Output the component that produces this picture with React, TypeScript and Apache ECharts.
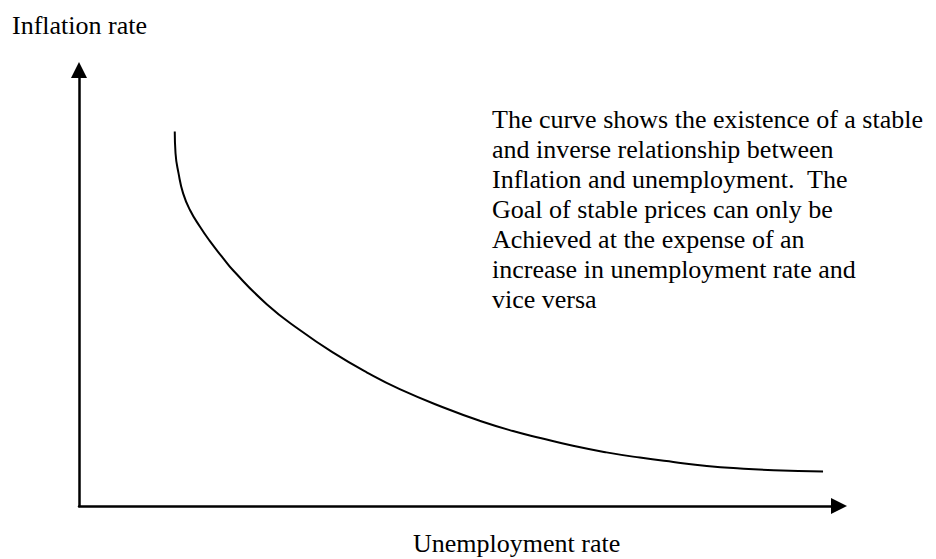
import React, { useEffect, useRef } from "react";
import * as echarts from "echarts";

// Phillips curve (abstract units, 0–10 on both axes)
const unemployment = [1.26, 1.27, 1.31, 1.37, 1.46, 1.59, 1.72, 1.88, 2.03, 2.47, 2.91, 3.35, 3.79, 4.22, 4.84, 5.28, 5.71, 6.07, 6.5, 6.94, 7.38, 7.82, 8.26, 8.7, 9.14, 9.79];
const inflation = [8.59, 8.09, 7.63, 7.17, 6.79, 6.41, 6.08, 5.72, 5.4, 4.63, 4.03, 3.51, 3.06, 2.68, 2.23, 1.95, 1.72, 1.56, 1.38, 1.23, 1.11, 1.01, 0.92, 0.86, 0.82, 0.79];

const yTitle = "Inflation rate";
const xTitle = "Unemployment rate";
const noteLines = [
  "The curve shows the existence of a stable",
  "and inverse relationship between",
  "Inflation and unemployment.  The",
  "Goal of stable prices can only be",
  "Achieved at the expense of an",
  "increase in unemployment rate and",
  "vice versa",
];

const FONT = "'Liberation Serif', 'Times New Roman', serif";

export default function App() {
  const ref = useRef<HTMLDivElement>(null);
  useEffect(() => {
    if (!ref.current) return;
    const chart = echarts.init(ref.current, undefined, { renderer: "svg" });
    const axisCommon = {
      type: "value" as const,
      min: 0,
      max: 10,
      axisLine: {
        show: true,
        symbol: ["none", "triangle"],
        symbolSize: [16, 16],
        lineStyle: { color: "#000", width: 2.5 },
      },
      axisTick: { show: false },
      axisLabel: { show: false },
      splitLine: { show: false },
    };
    chart.setOption({
      animation: false,
      backgroundColor: "#fff",
      grid: { left: 79, right: 97, top: 70, bottom: 53 },
      xAxis: axisCommon,
      yAxis: axisCommon,
      series: [
        {
          type: "line",
          data: unemployment.map((u, i) => [u, inflation[i]]),
          smooth: true,
          showSymbol: false,
          lineStyle: { color: "#000", width: 2 },
        },
      ],
      graphic: [
        {
          type: "text",
          left: 12,
          top: 12,
          style: { text: yTitle, font: `26px ${FONT}`, fill: "#000" },
        },
        {
          type: "text",
          left: 413,
          top: 530,
          style: { text: xTitle, font: `26px ${FONT}`, fill: "#000" },
        },
        {
          type: "text",
          left: 492,
          top: 104,
          style: {
            text: noteLines.join("\n"),
            font: `26px ${FONT}`,
            lineHeight: 30,
            fill: "#000",
          },
        },
      ],
    });
    return () => chart.dispose();
  }, []);
  return (
    <div
      ref={ref}
      style={{ position: "fixed", left: 0, top: 0, width: 936, height: 559, background: "#fff" }}
    />
  );
}
